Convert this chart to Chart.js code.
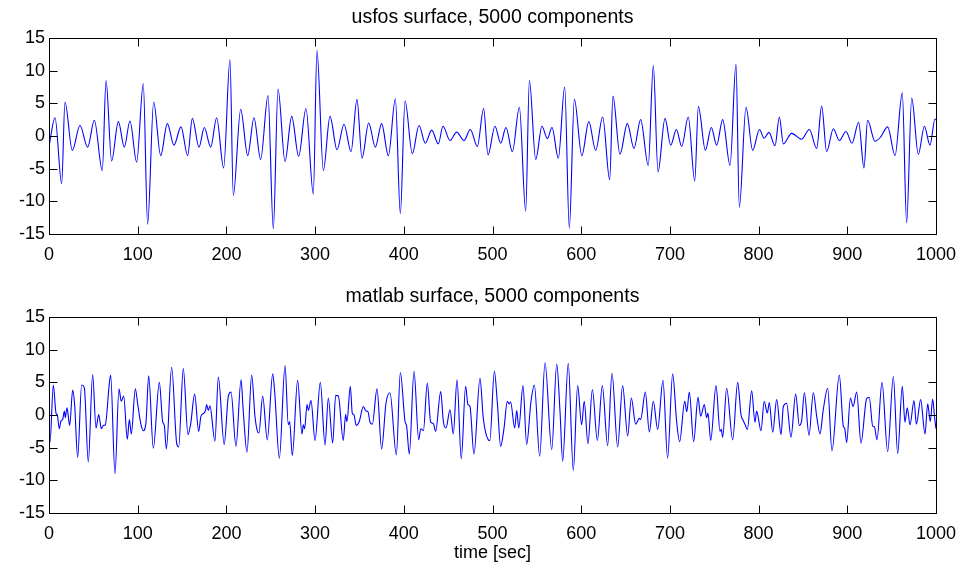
<!DOCTYPE html>
<html>
<head>
<meta charset="utf-8">
<title>Surface elevation, 5000 components</title>
<script src="https://cdn.jsdelivr.net/npm/chart.js@4.4.1/dist/chart.umd.min.js"></script>
<style>
  html, body { margin: 0; padding: 0; background: #fff; }
  .panel { position: absolute; left: 0; width: 960px; height: 281px; }
  #usfos-panel { top: 0; }
  #matlab-panel { top: 281px; }
</style>
</head>
<body>
<div class="panel" id="usfos-panel"><canvas id="usfosChart" width="960" height="281"></canvas></div>
<div class="panel" id="matlab-panel"><canvas id="matlabChart" width="960" height="281"></canvas></div>
<script>
// axis ticks
const timeTicks = [0, 100, 200, 300, 400, 500, 600, 700, 800, 900, 1000];
const levelTicks = [-15, -10, -5, 0, 5, 10, 15];

// usfos surface: turning points of the elevation record [sec] / [m]
const usfosTime = [
  0, 6.8, 14.3, 18.0, 26.3, 34.9, 43.6, 51.1, 60.1, 64.3, 70.6, 78.2, 84.9, 91.3, 98.8,
  106.3, 111.2, 118.0, 125.9, 133.4, 140.9, 148.8, 156.3, 161.6, 169.1, 175.1, 182.3, 189.0, 196.9,
  204.0, 207.8, 216.1, 224.0, 231.1, 238.6, 246.9, 252.9, 258.2, 266.1, 273.6, 281.5, 289.7, 298.0,
  302.1, 309.3, 316.8, 324.7, 332.6, 340.5, 347.2, 352.9, 360.4, 367.9, 375.0, 382.6, 390.5, 396.1,
  401.4, 409.6, 417.1, 424.3, 431.4, 438.9, 444.2, 452.1, 459.6, 467.9, 475.0, 482.9, 490.0, 494.9,
  502.8, 509.2, 515.2, 522.4, 530.3, 537.4, 541.6, 548.7, 555.8, 561.8, 567.1, 574.2, 581.4, 586.6,
  592.3, 600.7, 608.6, 616.3, 624.2, 632.1, 635.8, 643.7, 652.0, 659.5, 667.0, 675.6, 681.3, 686.6,
  694.5, 700.9, 707.3, 713.3, 720.7, 728.0, 732.1, 740.0, 746.7, 752.7, 759.5, 767.8, 774.5, 778.3,
  785.8, 793.3, 801.0, 806.2, 811.7, 818.5, 823.4, 827.9, 837.3, 848.5, 857.2, 865.5, 871.1, 876.7,
  884.3, 891.0, 898.5, 905.3, 912.8, 918.8, 922.9, 931.2, 937.6, 945.5, 953.8, 962.0, 966.9, 972.6,
  980.1, 986.9, 993.2, 998.9, 1000
];
const usfosLevel = [
  -1.6, 2.8, -7.3, 5.2, -2.2, 1.6, -1.7, 2.4, -5.3, 8.5, -3.8, 2.2, -1.7, 2.3, -4.0,
  8.0, -13.5, 5.2, -3.0, 1.9, -1.4, 1.4, -3.0, 2.7, -1.7, 1.3, -1.7, 2.8, -4.9,
  11.7, -9.1, 4.1, -3.0, 2.8, -3.6, 6.2, -14.2, 7.2, -3.9, 3.0, -3.1, 4.2, -8.9,
  13.1, -5.3, 3.0, -2.1, 1.8, -2.4, 5.6, -3.4, 2.0, -1.7, 1.9, -3.0, 5.7, -11.9,
  5.4, -2.7, 1.6, -1.1, 0.9, -1.2, 1.5, -0.7, 0.6, -0.7, 1.0, -1.6, 4.2, -2.9,
  1.5, -1.1, 1.3, -2.4, 4.4, -11.5, 8.5, -3.6, 1.5, -0.4, 1.3, -3.4, 7.5, -14.1,
  5.6, -3.0, 2.2, -2.2, 2.9, -6.7, 6.1, -2.8, 1.9, -1.9, 2.5, -4.5, 10.8, -5.5,
  2.7, -1.4, 1.0, -1.6, 2.9, -6.9, 4.5, -2.2, 1.3, -1.4, 2.5, -4.5, 11.0, -10.9,
  4.4, -2.2, 1.0, -0.35, 0.55, -1.5, 2.9, -1.2, 0.4, -0.5, 1.0, -1.9, 4.6, -2.4,
  1.1, -0.7, 0.7, -1.1, 2.1, -4.9, 2.4, -0.8, -0.15, 1.4, -3.0, 6.6, -13.3, 5.8,
  -2.8, 1.5, -1.4, 2.6, 2.5
];

// matlab surface: turning points of the elevation record [sec] / [m]
const matlabTime = [
  0, 1.1, 4.9, 7.9, 9.4, 11.6, 13.5, 15.4, 17.3, 18.4, 20.3, 23.3, 26.7, 28.9, 32.3, 36.8, 39.8,
  44.3, 49.2, 53.0, 56.0, 59.0, 61.3, 63.5, 68.0, 69.5, 74.4, 78.9, 81.5, 84.2, 88.3, 90.6, 92.8,
  97.3, 99.9, 103.3, 106.3, 109.3, 112.4, 117.6, 124.4, 128.1, 130.0, 132.3, 138.3, 143.9, 146.2,
  151.4, 156.7, 159.7, 164.2, 168.7, 171.3, 174.7, 176.5, 177.7, 179.6, 181.4, 187.1, 190.9, 197.5,
  202.2, 205.2, 210.8, 216.5, 219.0, 223.2, 228.5, 232.2, 234.8, 236.7, 240.9, 246.1, 252.2, 254.4,
  259.7, 266.1, 269.8, 271.3, 274.3, 280.3, 285.2, 286.7, 288.2, 290.9, 292.4, 295.4, 299.9, 305.9,
  311.2, 314.9, 319.8, 323.2, 326.2, 331.8, 334.4, 335.9, 339.7, 341.9, 343.8, 346.4, 349.8, 354.4,
  357.4, 359.5, 361.9, 364.5, 369.8, 375.0, 379.9, 384.4, 391.6, 396.1, 401.4, 403.2, 406.2, 411.5,
  416.8, 419.1, 422.1, 426.5, 430.3, 433.3, 435.9, 441.6, 444.6, 447.6, 452.1, 455.8, 460.0, 464.8,
  469.7, 472.3, 474.6, 479.1, 485.9, 489.6, 495.3, 497.0, 502.1, 505.5, 509.2, 513.0, 516.7, 518.6,
  520.4, 525.0, 527.3, 529.6, 534.4, 538.5, 543.4, 547.2, 553.2, 559.2, 566.8, 572.4, 576.1, 579.1,
  585.4, 591.1, 596.0, 600.5, 603.4, 607.6, 612.6, 618.2, 623.8, 629.8, 634.7, 641.1, 646.7, 652.4,
  656.5, 661.4, 665.5, 667.0, 672.3, 676.8, 681.3, 686.2, 692.2, 697.4, 703.1, 707.6, 711.0, 716.7,
  719.0, 721.9, 726.8, 731.7, 734.7, 738.8, 741.4, 742.9, 746.0, 752.0, 756.5, 758.0, 759.5, 764.0,
  770.8, 776.4, 780.2, 782.1, 784.6, 787.3, 792.2, 795.9, 797.8, 802.7, 806.3, 809.8, 812.1, 815.9,
  820.4, 825.3, 827.9, 831.6, 836.5, 841.8, 845.9, 848.5, 851.6, 856.8, 861.7, 865.5, 869.2, 872.9,
  877.9, 882.7, 891.0, 895.5, 897.0, 899.3, 903.5, 906.5, 910.6, 915.4, 921.8, 924.8, 928.6, 930.5,
  933.5, 939.1, 945.5, 951.9, 956.8, 962.0, 965.0, 967.6, 970.7, 975.2, 977.9, 982.7, 987.6, 990.6,
  993.6, 996.2, 998.5, 1000
];
const matlabLevel = [
  -3.5, -4.2, 4.6, 0.3, 0.0, -2.1, -0.9, -0.7, 0.6, -0.4, 1.1, -1.6, 3.8, 1.6, -6.5, 4.6, 4.2,
  -7.2, 6.2, -2.0, 0.05, -2.1, -1.6, -1.5, 4.8, 6.1, -9.0, 4.0, 2.1, 2.9, -3.7, -0.7, -2.9,
  4.0, 1.8, -1.2, -2.4, -1.2, 6.0, -5.1, 5.0, -1.0, -1.6, -5.2, 7.3, -4.3, -4.9,
  7.1, -3.0, -1.4, 3.2, -2.5, -0.2, 0.3, 0.7, 1.6, 0.7, 1.4, -4.0, 5.8, -4.5,
  2.9, 3.5, -4.8, 5.4, 0.6, -5.7, 6.1, -0.2, -2.4, -2.75, 2.9, -3.8, 6.3, 3.6,
  -6.6, 7.55, -1.5, -1.0, -6.2, 5.3, -2.9, -1.5, -2.1, 1.6, 0.7, 2.2, -3.9, 5.0,
  -4.6, 2.6, -4.3, 3.0, 2.9, -3.9, 0.05, -1.0, 4.4, 0.3, 0.0, -1.6, -1.0, 1.3,
  0.6, 0.55, -1.1, -1.4, 4.0, -5.2, 1.8, 3.4, -6.1, 6.5, -1.0, -1.7, -6.0, 6.7,
  -3.8, -2.1, -2.4, 4.9, -1.1, -1.3, -2.5, 3.6, -1.0, -2.0, 0.8, -2.9, 5.4, -6.7,
  4.4, 1.6, 1.3, -6.0, 5.6, -0.5, -3.8, -3.9, 6.7, 1.8, -4.8, -2.0, 2.1, 1.7,
  2.0, -2.0, 0.7, -2.0, 4.5, -4.5, 2.1, 4.6, -6.3, 8.0, -5.3, 7.8, 0.6, -7.1,
  7.9, -8.5, 4.5, -1.5, 2.1, -4.4, 3.9, -3.9, 4.5, -4.7, 6.4, -4.9, 4.5, -3.2,
  2.6, -1.4, -0.5, -0.7, 3.5, -2.6, 2.1, -2.2, 5.3, -6.6, 6.3, -1.0, -4.1, 2.1,
  0.5, 3.5, -4.1, 2.7, -0.2, 1.6, -0.4, 0.3, -3.9, 4.5, -2.5, -2.2, -3.4, 4.1,
  -3.8, 5.0, 0.0, -0.7, -1.4, -2.2, 3.7, -1.1, 0.6, -2.4, 2.1, 0.3, 1.9, -2.65,
  2.35, -3.0, 1.3, 1.8, -3.4, 3.2, -1.6, -0.9, 3.4, -3.1, 3.4, -0.2, -2.9, 0.8,
  4.1, -5.5, 6.1, -1.7, -2.0, -4.2, 2.6, 1.3, 3.5, -4.3, 2.5, 2.7, -1.7, -1.8,
  -3.8, 5.0, -5.6, 5.9, -5.9, 4.4, -1.1, 1.1, -1.5, 2.2, -1.4, 2.35, -2.9, 1.7,
  -1.0, 2.45, -0.5, -2.1
];

const FONT = '"Liberation Sans", Arial, Helvetica, sans-serif';
const LABEL_SIZE = 18;
const TITLE_SIZE = 19.5;
const TICK_LEN = 8;

// box round the axes with inward ticks on all four sides
const axesBox = {
  id: 'axesBox',
  afterDraw(chart) {
    const { ctx, chartArea: a, scales: { x, y } } = chart;
    const L = Math.round(a.left) + 0.5, R = Math.round(a.right) + 0.5;
    const T = Math.round(a.top) + 0.5, B = Math.round(a.bottom) + 0.5;
    ctx.save();
    ctx.strokeStyle = '#000';
    ctx.lineWidth = 1;
    ctx.beginPath();
    timeTicks.forEach(t => {
      const px = Math.round(x.getPixelForValue(t)) + 0.5;
      ctx.moveTo(px, B); ctx.lineTo(px, B - TICK_LEN);
      ctx.moveTo(px, T); ctx.lineTo(px, T + TICK_LEN);
    });
    levelTicks.forEach(v => {
      const py = Math.round(y.getPixelForValue(v)) + 0.5;
      ctx.moveTo(L, py); ctx.lineTo(L + TICK_LEN, py);
      ctx.moveTo(R, py); ctx.lineTo(R - TICK_LEN, py);
    });
    ctx.stroke();
    ctx.strokeRect(L, T, R - L, B - T);
    ctx.restore();
  }
};

// panel title just above the box
const panelTitle = {
  id: 'panelTitle',
  afterDraw(chart, args, opts) {
    const { ctx, chartArea: a } = chart;
    ctx.save();
    ctx.fillStyle = '#000';
    ctx.font = TITLE_SIZE + 'px ' + FONT;
    ctx.textAlign = 'center';
    ctx.textBaseline = 'middle';
    ctx.fillText(opts.text, (a.left + a.right) / 2, a.top - 20);
    ctx.restore();
  }
};

function toPoints(times, levels) {
  return times.map((t, i) => ({ x: t, y: levels[i] }));
}

function buildOptions(title, padTop, axisHeight, timeLabel) {
  const labelFont = { family: FONT, size: LABEL_SIZE };
  return {
    responsive: false,
    animation: false,
    layout: { padding: { top: padTop, right: 24, left: 0, bottom: 0 } },
    plugins: {
      legend: { display: false },
      tooltip: { enabled: false },
      panelTitle: { text: title }
    },
    elements: { point: { radius: 0 } },
    scales: {
      x: {
        type: 'linear',
        min: 0,
        max: 1000,
        afterBuildTicks: s => { s.ticks = timeTicks.map(v => ({ value: v })); },
        afterFit: s => {
          // fixed height; end labels may hang into the side margins
          s.height = axisHeight;
          s.paddingLeft = 0;
          s.paddingRight = 0;
        },
        grid: { display: false, drawTicks: false },
        border: { display: false },
        ticks: {
          color: '#000',
          font: labelFont,
          padding: 10,
          maxRotation: 0,
          autoSkip: false,
          callback: v => String(v)
        },
        title: {
          display: !!timeLabel,
          text: timeLabel || '',
          color: '#000',
          font: labelFont,
          padding: { top: 0, bottom: -2 }
        }
      },
      y: {
        type: 'linear',
        min: -15,
        max: 15,
        afterBuildTicks: s => { s.ticks = levelTicks.map(v => ({ value: v })); },
        afterFit: s => { s.width = 49; },
        grid: { display: false, drawTicks: false },
        border: { display: false },
        ticks: { color: '#000', font: labelFont, padding: 4, callback: v => String(v) }
      }
    }
  };
}

function drawPanel(canvasId, times, levels, title, padTop, axisHeight, timeLabel) {
  new Chart(document.getElementById(canvasId), {
    type: 'line',
    data: {
      datasets: [{
        data: toPoints(times, levels),
        borderColor: '#0000ff',
        borderWidth: 1.1,
        cubicInterpolationMode: 'monotone',
        fill: false
      }]
    },
    options: buildOptions(title, padTop, axisHeight, timeLabel),
    plugins: [axesBox, panelTitle]
  });
}

drawPanel('usfosChart', usfosTime, usfosLevel, 'usfos surface, 5000 components', 38, 47, null);
drawPanel('matlabChart', matlabTime, matlabLevel, 'matlab surface, 5000 components', 36, 49, 'time [sec]');
</script>
</body>
</html>
